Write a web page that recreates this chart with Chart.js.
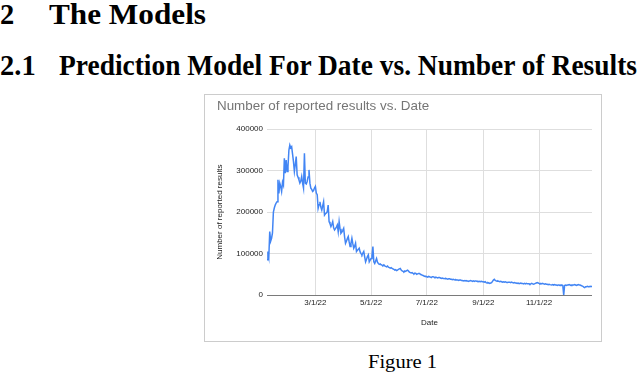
<!DOCTYPE html>
<html>
<head>
<meta charset="utf-8">
<script src="https://cdn.jsdelivr.net/npm/chart.js@4.4.1/dist/chart.umd.min.js"></script>
<style>
  html, body { margin: 0; padding: 0; background: #fff; }
  body { width: 640px; height: 376px; position: relative; overflow: hidden; }
  .tx { position: absolute; white-space: nowrap; font-family: "Liberation Serif", "Times New Roman", serif;
        color: #000; line-height: 1; transform-origin: 0 0; }
  .hd { font-weight: bold; font-size: 28.5px; }
  #box { position: absolute; left: 204px; top: 94px; width: 398px; height: 248px;
         box-sizing: border-box; border: 1px solid #cccccc; }
  #chart { position: absolute; left: 205px; top: 95px; }
</style>
</head>
<body>
<div class="tx hd" id="h1n" style="left:0px;top:1.4px">2</div>
<div class="tx hd" id="h1t" style="left:49px;top:1.4px">The Models</div>
<div class="tx hd" id="h2n" style="left:0px;top:51.6px">2.1</div>
<div class="tx hd" id="h2t" style="left:59px;top:51.6px">Prediction Model For Date vs. Number of Results</div>
<div id="box"></div>
<canvas id="chart" width="396" height="246"></canvas>
<div class="tx" id="cap" style="left:368px;top:351.7px;font-size:19.5px">Figure 1</div>
<script>
// fit a few text lines to the widths measured on the reference
const fitText = (id, w) => {
    const el = document.getElementById(id);
    const r = el.getBoundingClientRect().width;
    el.style.transform = "scaleX(" + (w / r) + ")";
};
fitText("h1t", 157);
fitText("h2t", 578);
fitText("cap", 69);

// day of year (Jan 1 = 0) of the first point: 1/7/22
const firstDay = 6;
const tickDays = [59, 120, 181, 243, 304];
const tickLabels = ["3/1/22", "5/1/22", "7/1/22", "9/1/22", "11/1/22"];
const yTicks = [0, 100000, 200000, 300000, 400000];

// daily number of reported results, one value per day from 1/7/22
const reported = [
    85000, 105000, 92000, 153000, 130000, 137000, 150000,
    200000, 210000, 217000, 222000, 225000, 278000, 245000,
    270000, 262000, 250000, 272000, 265000, 330000, 294000,
    326000, 298000, 310000, 350000, 362000, 355000, 358000,
    340000, 322000, 298000, 315000, 334000, 290000, 284000,
    278000, 270000, 275000, 286000, 270000, 258000, 342000,
    270000, 268000, 274000, 285000, 302000, 270000, 258000,
    255000, 250000, 252000, 258000, 262000, 246000, 242000,
    209000, 218000, 225000, 212000, 205000, 215000, 225000,
    193000, 196000, 198000, 201000, 217000, 177000, 172000,
    165000, 170000, 177000, 162000, 157000, 160000, 164000,
    169000, 153000, 177000, 160000, 149000, 152000, 156000,
    161000, 140000, 125000, 130000, 136000, 141000, 128000,
    117000, 125000, 137000, 124000, 113000, 118000, 125000,
    105000, 108000, 110000, 113000, 104000, 100000, 97000,
    101000, 105000, 92000, 80000, 86000, 93000, 97000,
    80000, 84000, 88000, 95000, 117000, 80000, 76000,
    82000, 88000, 79000, 76000, 74000, 75000, 73000,
    72000, 71000, 73000, 70000, 69000, 68000, 70000,
    67000, 66000, 65000, 66000, 64000, 63000, 62000,
    60000, 61000, 59000, 60000, 62000, 63000, 64000,
    60000, 58000, 57000, 56000, 58000, 57000, 59000,
    60000, 58000, 55000, 54000, 53000, 54000, 52000,
    51000, 53000, 52000, 50000, 51000, 52000, 52000,
    50000, 49000, 48000, 47000, 46000, 45000, 45000,
    44000, 43000, 45000, 44000, 43000, 42000, 44000,
    44000, 43000, 42000, 43000, 42000, 41000, 42000,
    42000, 41000, 40000, 41000, 40000, 40000, 39000,
    40000, 39000, 38000, 39000, 39000, 38000, 38000,
    37000, 38000, 37000, 36000, 37000, 36000, 36000,
    35000, 36000, 36000, 35000, 35000, 34000, 35000,
    34000, 35000, 34000, 34000, 33000, 34000, 35000,
    34000, 33000, 34000, 33000, 34000, 34000, 33000,
    33000, 32000, 33000, 32000, 33000, 32000, 32000,
    31000, 32000, 30000, 29000, 30000, 29000, 28000,
    29000, 30000, 33000, 36000, 38000, 35000, 34000,
    33000, 34000, 33000, 32000, 33000, 32000, 31000,
    32000, 31000, 32000, 31000, 30000, 31000, 31000,
    31000, 30000, 31000, 30000, 29000, 30000, 29000,
    29000, 28000, 29000, 28000, 28000, 29000, 28000,
    28000, 27000, 28000, 27000, 28000, 27000, 27000,
    27000, 26000, 27000, 28000, 27000, 26000, 27000,
    28000, 29000, 30000, 29000, 28000, 27000, 28000,
    27000, 28000, 27000, 26000, 27000, 26000, 26000,
    25000, 26000, 25000, 25000, 24000, 25000, 24000,
    25000, 24000, 24000, 23000, 24000, 24000, 23000,
    24000, 24000, 23000, 0, 23000, 24000, 23000,
    24000, 24000, 25000, 24000, 23000, 24000, 24000,
    24000, 25000, 24000, 23000, 24000, 25000, 24000,
    24000, 23000, 22000, 21000, 19000, 18000, 20000,
    20000, 21000, 20000, 20000, 21000, 20000, 21000,
];

const sans = "'Liberation Sans', Arial, sans-serif";

new Chart(document.querySelector("#chart"), {
    type: "line",
    data: {
        datasets: [
            {
                label: "Number of reported results",
                data: reported.map((v, i) => ({ x: firstDay + i, y: v })),
                borderColor: "#4285f4",
                borderWidth: 1.5,
                pointRadius: 0,
                tension: 0,
            },
        ],
    },
    options: {
        responsive: false,
        animation: false,
        layout: { padding: { left: 12, right: 9, top: 0, bottom: 0 } },
        plugins: {
            legend: { display: false },
            tooltip: { enabled: false },
            title: {
                display: true,
                text: "Number of reported results vs. Date",
                align: "start",
                color: "#757575",
                font: { family: sans, size: 13.4, weight: "normal" },
                padding: { top: 2.8, bottom: 15.4 },
            },
        },
        scales: {
            x: {
                type: "linear",
                min: firstDay,
                max: firstDay + reported.length - 1,
                afterBuildTicks: (scale) => {
                    scale.ticks = tickDays.map((d) => ({ value: d }));
                },
                afterFit: (scale) => {
                    scale.height = 46;
                },
                ticks: {
                    autoSkip: false,
                    maxRotation: 0,
                    padding: 3,
                    color: "#222",
                    font: { family: sans, size: 8 },
                    callback: (v, i) => tickLabels[i],
                },
                grid: { color: "#dedede", drawTicks: false },
                border: { display: false },
                title: {
                    display: true,
                    text: "Date",
                    color: "#222",
                    font: { family: sans, size: 8 },
                    padding: { top: 0, bottom: 13.2 },
                },
            },
            y: {
                min: 0,
                max: 400000,
                afterBuildTicks: (scale) => {
                    scale.ticks = yTicks.map((v) => ({ value: v }));
                },
                afterFit: (scale) => {
                    scale.width = 50;
                },
                ticks: {
                    padding: 4,
                    color: "#222",
                    font: { family: sans, size: 8 },
                    callback: (v) => String(v),
                },
                grid: {
                    color: (c) => (c.tick && c.tick.value === 0 ? "#7a7a7a" : "#dedede"),
                    drawTicks: false,
                },
                border: { display: false },
                title: {
                    display: true,
                    text: "Number of reported results",
                    color: "#222",
                    font: { family: sans, size: 8 },
                    padding: { top: -1.8, bottom: 0 },
                },
            },
        },
    },
});
</script>
</body>
</html>
